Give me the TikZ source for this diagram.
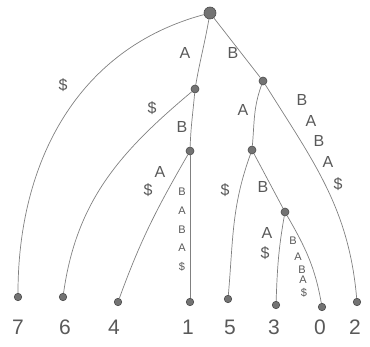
\documentclass[tikz,border=0pt]{standalone}
\usepackage{fontspec}
\setmainfont{Liberation Sans}
\usetikzlibrary{positioning}

\begin{document}
\begin{tikzpicture}[
  x=1pt, y=-1pt,
  dot/.style={circle, fill=black!55, draw=black!70, line width=0.6pt, inner sep=0pt, minimum size=7pt},
  rootdot/.style={dot, minimum size=12pt},
  inner/.style={dot, minimum size=8pt},
  leaf/.style={dot, minimum size=7.5pt},
  edge/.style={draw=black!50, line width=0.7pt},
  lbl/.style={font=\fontsize{16}{16}\selectfont, text=black!65, inner sep=0pt},
  tiny/.style={font=\fontsize{11}{11}\selectfont, text=black!65, inner sep=0pt},
  num/.style={font=\fontsize{21}{21}\selectfont, text=black!65, inner sep=0pt}
]
\useasboundingbox (0,0) rectangle (370,347);

\node[rootdot] (r) at (210,13) {};
\node[inner] (a) at (195,89) {};
\node[inner] (b) at (263,81) {};
\node[inner] (ab) at (190,151) {};
\node[inner] (ba) at (252,150) {};
\node[inner] (bab) at (285,212) {};

\node[leaf] (l7) at (18,297) {};
\node[leaf] (l6) at (63,297) {};
\node[leaf] (l4) at (118,302) {};
\node[leaf] (l1) at (190,302) {};
\node[leaf] (l5) at (228,299) {};
\node[leaf] (l3) at (276,305) {};
\node[leaf] (l0) at (322,307) {};
\node[leaf] (l2) at (357,302) {};

\foreach \n/\x in {7/18, 6/65, 4/114, 1/188, 5/230, 3/274, 0/320, 2/355}
  \node[num] (n\n) at (\x,327) {\n};

\draw[edge] (r) to[out=195, in=90] (l7);
\draw[edge] (r) to[out=-100, in=80] (a);
\draw[edge] (r) -- (b);
\draw[edge] (a) to[out=220, in=82] (l6);
\draw[edge] (a) to[out=-95, in=88] (ab);
\draw[edge] (ab) to[out=-120, in=70] (l4);
\draw[edge] (ab) -- (l1);
\draw[edge] (b) to[out=-110, in=85] (ba);
\draw[edge] (b) to[out=-58, in=95] (l2);
\draw[edge] (ba) to[out=-110, in=85] (l5);
\draw[edge] (ba) -- (bab);
\draw[edge] (bab) to[out=-100, in=88] (l3);
\draw[edge] (bab) to[out=-60, in=100] (l0);

\node[lbl] (e7) at (63,85) {\$};
\node[lbl] (ea) at (185,53) {A};
\node[lbl] (eb) at (233,53) {B};
\node[lbl] (e6) at (152,108) {\$};
\node[lbl] (eab) at (182,127) {B};
\node[lbl] (e4a) at (160,172) {A};
\node[lbl] (e4s) at (148,190) {\$};
\node[lbl] (eba) at (243,110) {A};
\node[lbl] (e5) at (225,190) {\$};
\node[lbl] (ebab) at (263,187) {B};
\node[lbl] (e3a) at (267,233) {A};
\node[lbl] (e3s) at (265,253) {\$};

\foreach \t/\y [count=\i] in {B/192, A/211, B/230, A/248, \$/267}
  \node[tiny] (e1\i) at (182,\y) {\t};
\foreach \t/\x/\y [count=\i] in {B/302/100, A/311/121, B/319/141, A/328/162, \$/338/184}
  \node[lbl] (e2\i) at (\x,\y) {\t};
\foreach \t/\x/\y [count=\i] in {B/293/241, A/298/257, B/302/270, A/303/280, \$/304/293}
  \node[tiny] (e0\i) at (\x,\y) {\t};
\end{tikzpicture}
\end{document}
